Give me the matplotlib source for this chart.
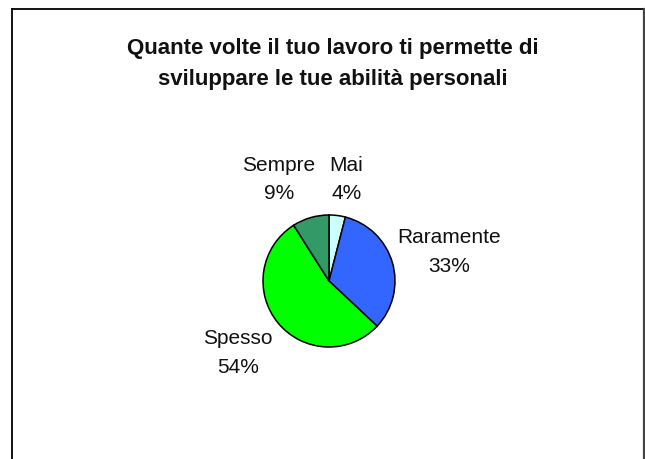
import matplotlib.pyplot as plt
from matplotlib.lines import Line2D

# data
categories = ["Mai", "Raramente", "Spesso", "Sempre"]
percent = [4, 33, 54, 9]
colors = ["#CCFFFF", "#3366FF", "#00FF00", "#339966"]
title = "Quante volte il tuo lavoro ti permette di\nsviluppare le tue abilità personali"

W, H = 645, 459
fig = plt.figure(figsize=(W / 100, H / 100), dpi=100)
plt.rcParams['font.family'] = ['Liberation Sans', 'DejaVu Sans']

# chart frame (left, top, right edges visible)
fig.add_artist(Line2D([12 / W, 12 / W], [0, 1 - 9 / H], transform=fig.transFigure, color="black", lw=1.3))
fig.add_artist(Line2D([12 / W, 643.5 / W], [1 - 9 / H, 1 - 9 / H], transform=fig.transFigure, color="black", lw=1.3))
fig.add_artist(Line2D([643.5 / W, 643.5 / W], [0, 1 - 9 / H], transform=fig.transFigure, color="#444444", lw=1.6))

# pie axes: center (329, 281) px, radius 66 px
cx, cy, r = 329, 281, 66
ax = fig.add_axes([(cx - r) / W, (H - cy - r) / H, 2 * r / W, 2 * r / H])
ax.pie(percent, colors=colors, startangle=90, counterclock=False,
       wedgeprops=dict(edgecolor="black", linewidth=1.1))
ax.set_xlim(-1, 1)
ax.set_ylim(-1, 1)
ax.set_aspect("equal")
ax.axis("off")

# label positions (in pie radius units)
label_pos = [(0.26, 1.54), (1.82, 0.44), (-1.38, -1.09), (-0.76, 1.54)]
for name, p, (lx, ly) in zip(categories, percent, label_pos):
    ax.text(lx, ly, f"{name}\n{p}%", ha="center", va="center", fontsize=15,
            linespacing=1.62, color="#111111", clip_on=False)

fig.text(333 / W, 1 - 64 / H, title, ha="center", va="center", fontsize=16,
         fontweight="bold", linespacing=1.62, color="#111111")

fig.savefig("out.png", dpi=100)
